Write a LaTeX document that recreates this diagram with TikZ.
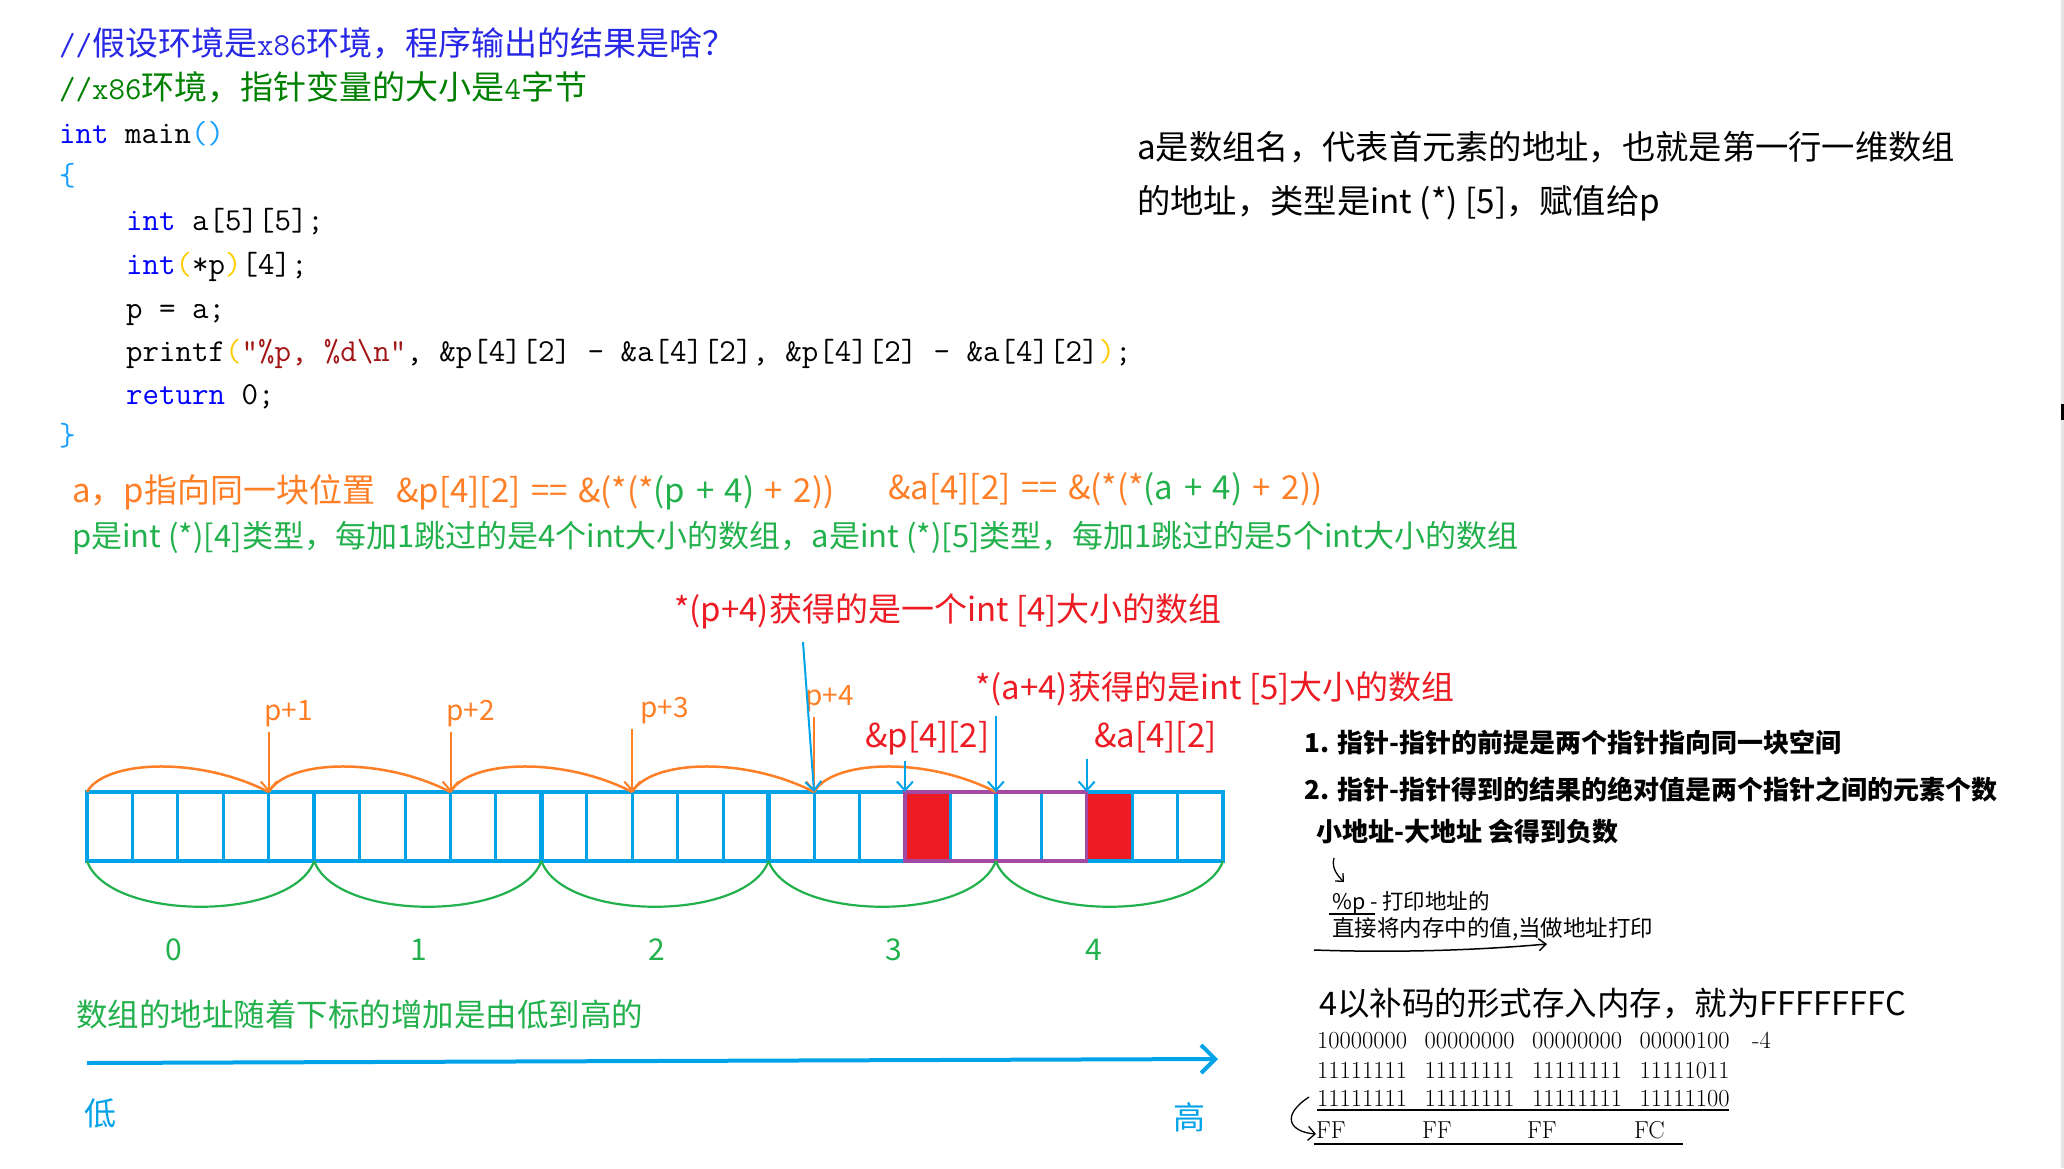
\documentclass[tikz,border=0pt]{standalone}
\usepackage{fontspec}
\newfontfamily\cjk{Noto Sans CJK SC}
\usetikzlibrary{arrows.meta,positioning}
\definecolor{pblue}{RGB}{0,162,232}
\definecolor{pgreen}{RGB}{34,177,76}
\definecolor{porange}{RGB}{255,127,39}
\definecolor{pred}{RGB}{237,28,36}
\definecolor{ppurple}{RGB}{163,73,164}
\definecolor{kwblue}{RGB}{0,0,255}
\definecolor{cmblue}{RGB}{40,40,230}
\definecolor{cmgreen}{RGB}{0,128,0}
\definecolor{vsstr}{RGB}{163,21,21}
\definecolor{brk}{RGB}{23,159,255}
\definecolor{gold}{RGB}{255,205,0}

\newcommand\fpx[1]{\fontsize{#1}{#1}\selectfont}
\newcommand\zh[1]{{\cjk\fpx{33}#1}}
\newcommand\kw[1]{\textcolor{kwblue}{#1}}
\newcommand\gap{\hspace{17.5pt}}
\def\cw{45.44}

\tikzset{
  code/.style={anchor=base west, inner sep=0pt, font=\ttfamily\fpx{32}},
  say/.style={anchor=base west, inner sep=0pt, font=\cjk\fpx{#1}},
  note/.style={anchor=base west, inner sep=0pt, font=\cjk\bfseries\fpx{#1}},
  bits/.style={anchor=base west, inner sep=0pt, font=\fpx{24.5}},
  grid/.style={draw=pblue, line width=3pt},
  arch/.style={draw=porange, line width=2.5pt},
  hang/.style={draw=pgreen, line width=2.2pt},
  ptr/.style={-{Straight Barb[length=9pt,width=16pt]}, line width=2pt},
  idx/.style={inner sep=0pt, font=\cjk\fpx{30}, text=pgreen}
}

\begin{document}
\begin{tikzpicture}[x=1pt, y=-1pt]
    \fill[white] (0,0) rectangle (2064,1168);
    \useasboundingbox (0,0) rectangle (2064,1168);

    % code listing
    \node[code] (c1) at (59,55) {\textcolor{cmblue}{//\zh{假设环境是}x86\zh{环境，程序输出的结果是啥？}}};
    \node[code] (c2) at (59,99) {\textcolor{cmgreen}{//x86\zh{环境，指针变量的大小是}4\zh{字节}}};
    \node[code] (c3) at (59,143) {\kw{int} main\textcolor{brk}{()}};
    \node[code] (c4) at (59,185) {\textcolor{brk}{\{}};
    \node[code] (c5) at (126,230) {\kw{int} a[5][5];};
    \node[code] (c6) at (126,274) {\kw{int}\textcolor{gold}{(}*p\textcolor{gold}{)}[4];};
    \node[code] (c7) at (126,318) {p = a;};
    \node[code] (c8) at (126,361) {printf\textcolor{gold}{(}\textcolor{vsstr}{"\%p, \%d\textbackslash n"}, \&p[4][2] - \&a[4][2], \&p[4][2] - \&a[4][2]\textcolor{gold}{)};};
    \node[code] (c9) at (126,404) {\kw{return} 0;};
    \node[code] (c10) at (59,445) {\textcolor{brk}{\}}};

    % what a is
    \node[say=33.3] (r1) at (1137,159) {a是数组名，代表首元素的地址，也就是第一行一维数组};
    \node[say=33.3] (r2) at (1137,213) {的地址，类型是int (*) [5]，赋值给p};

    % equivalences
    \node[say=33] (same) at (72,502) {\spaceskip=0.32em \textcolor{porange}{a，p指向同一块位置\ \ \&p[4][2] == \&(*(*}\textcolor{pgreen}{(p + 4)}\textcolor{porange}{\ + 2))}};
    \node[say=33] (eqa) at (888,499) {\spaceskip=0.32em \textcolor{porange}{\&a[4][2] == \&(*(*}\textcolor{pgreen}{(a + 4)}\textcolor{porange}{\ + 2))}};
    \node[say=31, text=pgreen] (stride) at (72,547) {p是int (*)[4]类型，每加1跳过的是4个int大小的数组，a是int (*)[5]类型，每加1跳过的是5个int大小的数组};

    % red notes over the array
    \node[say=33, text=pred] (lp4t) at (674,621) {*(p+4)获得的是一个int [4]大小的数组};
    \node[say=33, text=pred] (la4t) at (975,699) {*(a+4)获得的是int [5]大小的数组};
    \node[say=33, text=pred] (lpk) at (865,747) {\&p[4][2]};
    \node[say=33, text=pred] (lak) at (1094,747) {\&a[4][2]};

    % the 25 ints of a
    \fill[pred] ({87+18*\cw},792) rectangle ({87+19*\cw},861);
    \fill[pred] ({87+22*\cw},792) rectangle ({87+23*\cw},861);
    \foreach \i in {1,...,24}
        \draw[grid] ({87+\i*\cw},792) -- ({87+\i*\cw},861);
    \foreach \i in {5,10,15,20}
        \draw[grid, line width=4.5pt] ({87+\i*\cw},792) -- ({87+\i*\cw},861);
    \draw[grid, line width=4.5pt] (87,792) rectangle (1223,861);
    \draw[draw=ppurple, line width=3.5pt] ({87+18*\cw},792) rectangle ({87+22*\cw},861);

    % p+1 ... p+4, each 4 ints
    \foreach \a/\b in {0/4,4/8,8/12,12/16,16/20}
        \draw[arch] ({87+\a*\cw},792) .. controls ({87+\a*\cw+18},760) and ({87+\b*\cw-70},756) .. ({87+\b*\cw},792);
    \foreach \k in {1,...,4}
        \coordinate (p\k) at ({87+4*\k*\cw},792);
    \node[say=28, text=porange] (lp1) at (264,720) {p+1};
    \node[say=28, text=porange] (lp2) at (446,720) {p+2};
    \node[say=28, text=porange] (lp3) at (640,717) {p+3};
    \node[say=28, text=porange] (lp4) at (805,705) {p+4};
    \foreach \k in {1,...,4}
        \draw[ptr, porange, shorten <=5pt] (lp\k.south -| p\k) -- (p\k);

    % a+0 ... a+4, each 5 ints
    \foreach \a/\b in {0/5,5/10,10/15,15/20,20/25}
        \draw[hang] ({87+\a*\cw},861) .. controls ({87+\a*\cw+22},922) and ({87+\b*\cw-22},922) .. ({87+\b*\cw},861);
    \foreach \i/\x in {0/174,1/419,2/657,3/894,4/1094}
        \node[idx] (i\i) at (\x,950) {\i};

    % blue pointers
    \coordinate (p4t) at (803,642);
    \coordinate (pk) at ({87+18*\cw},792);
    \coordinate (a4) at ({87+20*\cw},792);
    \coordinate (ak) at ({87+22*\cw},792);
    \draw[ptr, pblue] (p4t) -- (p4);
    \draw[ptr, pblue, shorten <=6pt] (lpk.south -| pk) -- (pk);
    \draw[ptr, pblue, shorten <=10pt] (la4t.south -| a4) -- (a4);
    \draw[ptr, pblue, shorten <=6pt] (lak.south -| ak) -- (ak);

    % low to high
    \node[say=31.5, text=pgreen] (grow) at (76,1026) {数组的地址随着下标的增加是由低到高的};
    \coordinate (axs) at (87,1063);
    \coordinate (axe) at (1218,1059);
    \draw[pblue, line width=4pt, -{Straight Barb[length=14pt,width=28pt]}] (axs) -- (axe);
    \node[say=32, text=pblue] (low) at (84,1125) {低};
    \node[say=32, text=pblue] (high) at (1173,1129) {高};

    % pointer minus pointer
    \node[note=26] (n1) at (1304,752) {1. 指针-指针的前提是两个指针指向同一块空间};
    \node[note=26] (n2) at (1304,799) {2. 指针-指针得到的结果的绝对值是两个指针之间的元素个数};
    \node[note=26] (n3) at (1316,841) {小地址-大地址 会得到负数};
    \coordinate (hk1) at (1334,858);
    \coordinate (hk2) at (1344,882);
    \draw[ptr, line width=1.3pt, -{Straight Barb[length=6pt,width=11pt]}] (hk1) .. controls (1331,868) and (1338,876) .. (hk2);
    \node[say=21.5] (pp) at (1332,909) {\%p - 打印地址的};
    \draw[line width=1.3pt] (1329,914) -- (1375,914);
    \node[say=22.5] (asaddr) at (1332,936) {直接将内存中的值,当做地址打印};
    \coordinate (ua1) at (1314,950);
    \coordinate (ua2) at (1547,944);
    \draw[line width=1.5pt, -{Straight Barb[length=7pt,width=12pt]}] (ua1) .. controls (1400,953) and (1480,950) .. (ua2);

    % two's complement of -4
    \node[say=32.5] (fc) at (1319,1015) {4以补码的形式存入内存，就为FFFFFFFC};
    \node[bits] (b1) at (1317,1048) {10000000\gap 00000000\gap 00000000\gap 00000100};
    \node[bits] (m4) at (1752,1048) {-4};
    \node[bits] (b2) at (1317,1078) {11111111\gap 11111111\gap 11111111\gap 11111011};
    \node[bits] (b3) at (1317,1106) {11111111\gap 11111111\gap 11111111\gap 11111100};
    \draw[line width=1.5pt] (1317,1110) -- (1729,1110);
    \foreach \x/\h in {1316/FF,1422/FF,1527/FF,1634/FC}
        \node[bits] (h\x) at (\x,1138) {\h};
    \draw[line width=1.5pt] (1314,1144) -- (1683,1144);
    \coordinate (ca1) at (1309,1097);
    \coordinate (ca2) at (1316,1134);
    \draw[line width=1.3pt, -{Straight Barb[length=7pt,width=14pt]}] (ca1) .. controls (1280,1116) and (1290,1132) .. (ca2);

    % window edge
    \draw[black!10, line width=3pt] (2062,0) -- (2062,1168);
    \fill[black] (2061,404) rectangle (2064,420);
\end{tikzpicture}
\end{document}
